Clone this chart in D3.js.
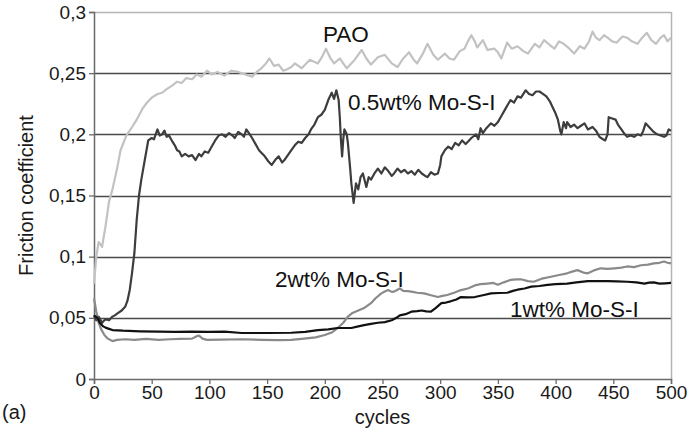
<!DOCTYPE html>
<html>
<head>
<meta charset="utf-8">
<script src="https://cdn.jsdelivr.net/npm/d3@7"></script>
<style>
  body { margin: 0; background: #fff; }
  svg { display: block; font-family: "Liberation Sans", Arial, sans-serif; }
</style>
</head>
<body>
<svg id="chart" width="694" height="433"></svg>
<script>
// friction coefficient vs cycles

var xTicks = [0, 50, 100, 150, 200, 250, 300, 350, 400, 450, 500];
var yTicks = [0, 0.05, 0.1, 0.15, 0.2, 0.25, 0.3];

var paoCycles = [0,2,4,7,10,13,16,20,23,28,33,37,42,46,50,55,59,63,68,72,76,80,85,89,93,98,102,107,113,119,125,131,137,141,145,149,152,156,160,164,167,171,174,180,187,194,198,201,205,208,213,219,226,232,236,240,246,252,258,263,268,273,277,280,285,289,294,298,304,308,312,317,321,324,327,330,332,337,341,347,350,353,358,362,367,372,376,382,386,390,395,399,403,407,412,416,421,425,429,432,435,438,442,445,449,453,458,462,466,471,475,479,483,487,491,494,497,500];
var paoValues = [0.078,0.100,0.112,0.108,0.125,0.145,0.155,0.172,0.187,0.199,0.206,0.212,0.221,0.226,0.230,0.233,0.234,0.237,0.240,0.243,0.242,0.246,0.245,0.249,0.247,0.252,0.249,0.251,0.248,0.252,0.251,0.249,0.247,0.251,0.254,0.258,0.262,0.256,0.257,0.252,0.253,0.255,0.258,0.254,0.261,0.258,0.264,0.270,0.262,0.258,0.262,0.254,0.261,0.269,0.262,0.257,0.263,0.265,0.258,0.255,0.262,0.267,0.261,0.258,0.266,0.274,0.265,0.261,0.266,0.262,0.261,0.268,0.270,0.276,0.281,0.276,0.271,0.277,0.269,0.270,0.267,0.262,0.275,0.270,0.272,0.268,0.266,0.274,0.271,0.277,0.273,0.270,0.276,0.274,0.270,0.266,0.272,0.270,0.276,0.284,0.279,0.277,0.281,0.279,0.276,0.275,0.280,0.279,0.276,0.274,0.279,0.283,0.277,0.274,0.279,0.281,0.276,0.279];

var halfCycles = [0,2,4,7,10,13,16,18,21,24,27,29,31,33,35,37,39,41,44,47,50,52,55,57,59,61,63,65,68,70,72,74,76,79,82,85,88,91,93,96,99,102,105,108,111,114,117,120,122,125,128,130,132,135,137,140,143,145,148,151,154,157,160,163,165,168,171,174,177,180,183,186,188,191,194,197,200,203,206,208,210,212,213,214,215,216,217,219,220,222,223,225,227,229,231,233,236,238,240,243,246,249,252,255,258,260,263,266,269,272,275,278,281,284,287,289,292,295,298,300,301,304,307,310,313,316,319,322,324,327,331,333,335,337,340,344,347,350,353,356,359,361,364,367,370,374,377,380,383,386,389,392,395,397,400,402,404,405,407,409,410,413,416,419,422,425,428,432,435,438,441,443,445,446,449,452,454,457,460,462,465,468,471,474,476,478,480,482,485,488,491,494,496,498,500];
var halfValues = [0.052,0.048,0.051,0.046,0.049,0.048,0.051,0.052,0.054,0.056,0.059,0.064,0.073,0.087,0.103,0.130,0.150,0.163,0.179,0.195,0.197,0.196,0.204,0.199,0.200,0.203,0.198,0.199,0.194,0.191,0.187,0.186,0.182,0.184,0.182,0.183,0.179,0.184,0.182,0.186,0.185,0.190,0.195,0.199,0.200,0.198,0.201,0.199,0.197,0.202,0.200,0.198,0.204,0.200,0.197,0.192,0.187,0.185,0.182,0.178,0.175,0.179,0.182,0.177,0.179,0.183,0.187,0.191,0.194,0.193,0.197,0.200,0.204,0.208,0.214,0.216,0.220,0.228,0.234,0.229,0.236,0.228,0.214,0.195,0.182,0.196,0.204,0.200,0.193,0.172,0.160,0.144,0.160,0.155,0.165,0.168,0.157,0.165,0.163,0.168,0.172,0.168,0.173,0.170,0.166,0.168,0.172,0.169,0.171,0.168,0.170,0.167,0.171,0.168,0.166,0.165,0.169,0.167,0.168,0.175,0.182,0.187,0.190,0.188,0.193,0.191,0.195,0.192,0.194,0.197,0.200,0.196,0.205,0.201,0.205,0.209,0.207,0.210,0.215,0.220,0.225,0.228,0.226,0.231,0.230,0.236,0.233,0.232,0.235,0.235,0.233,0.231,0.227,0.223,0.217,0.212,0.203,0.200,0.210,0.205,0.210,0.206,0.208,0.205,0.207,0.209,0.204,0.206,0.203,0.198,0.196,0.195,0.200,0.214,0.213,0.212,0.208,0.204,0.200,0.198,0.199,0.198,0.200,0.199,0.203,0.209,0.207,0.205,0.202,0.200,0.199,0.198,0.199,0.204,0.203];

var oneCycles = [0,3,5,8,10,13,16,25,40,56,70,85,100,113,128,150,171,183,194,203,211,223,229,234,240,246,252,258,262,265,270,275,280,284,288,292,296,301,305,309,314,318,324,330,338,344,351,358,363,367,373,379,386,393,400,410,418,428,436,445,453,462,470,477,481,485,490,495,500];
var oneValues = [0.052,0.050,0.046,0.043,0.042,0.041,0.040,0.0395,0.039,0.0387,0.0385,0.0388,0.0385,0.0387,0.0376,0.0376,0.0378,0.0385,0.040,0.0405,0.0417,0.0417,0.043,0.044,0.045,0.046,0.0465,0.048,0.050,0.052,0.053,0.055,0.0555,0.056,0.0553,0.055,0.058,0.062,0.0625,0.0635,0.065,0.067,0.0668,0.067,0.0687,0.070,0.0703,0.0705,0.072,0.073,0.074,0.0755,0.076,0.077,0.0775,0.078,0.079,0.080,0.080,0.080,0.0798,0.0795,0.079,0.078,0.0788,0.079,0.078,0.0782,0.0785];

var twoCycles = [0,2,4,6,9,12,16,20,27,35,45,56,66,75,85,89,91,94,98,110,128,145,160,171,182,192,200,206,211,216,220,224,229,234,240,244,249,252,255,258,260,263,265,268,272,275,280,286,292,298,302,306,312,318,324,330,335,341,346,350,355,361,366,370,376,381,388,396,403,410,415,419,424,428,434,439,445,451,457,462,468,474,480,485,490,494,497,500];
var twoValues = [0.066,0.055,0.046,0.041,0.036,0.033,0.031,0.032,0.0325,0.032,0.0328,0.032,0.0325,0.0328,0.033,0.035,0.0355,0.033,0.032,0.0322,0.0325,0.032,0.0318,0.032,0.033,0.034,0.036,0.038,0.0415,0.046,0.051,0.054,0.056,0.058,0.062,0.066,0.070,0.0715,0.0727,0.0712,0.0714,0.073,0.074,0.072,0.0718,0.0714,0.0705,0.070,0.0685,0.067,0.068,0.0687,0.0705,0.0727,0.074,0.0765,0.0775,0.078,0.0785,0.077,0.079,0.081,0.0815,0.0815,0.080,0.0795,0.082,0.0836,0.085,0.0864,0.088,0.089,0.087,0.0864,0.089,0.0905,0.090,0.0905,0.091,0.092,0.0915,0.093,0.0935,0.0945,0.095,0.096,0.095,0.0945];

var seriesNames = ["PAO", "0.5wt% Mo-S-I", "2wt% Mo-S-I", "1wt% Mo-S-I"];

function draw() {
    var svg = d3.select("#chart");

    var left = 94, right = 671, top = 12, bottom = 379;

    var x = d3.scaleLinear().domain([0, 500]).range([left, right]);
    var y = d3.scaleLinear().domain([0, 0.3]).range([bottom, top]);

    var locale = d3.formatLocale({ decimal: ",", thousands: ".", grouping: [3], currency: ["", ""] });
    var fmt = locale.format(".2~f");

    // horizontal grid lines
    svg.append("g")
        .selectAll("line")
        .data(yTicks.slice(1))
        .enter()
        .append("line")
        .attr("x1", left)
        .attr("x2", right)
        .attr("y1", function(d) { return Math.round(y(d)) + 0.5; })
        .attr("y2", function(d) { return Math.round(y(d)) + 0.5; })
        .attr("stroke", function(d) { return d === 0.3 ? "#b4b4b4" : "#4a4a4a"; })
        .attr("stroke-width", function(d) { return d === 0.3 ? 1.5 : 1.3; });

    // right border
    svg.append("line")
        .attr("x1", right + 0.5).attr("x2", right + 0.5)
        .attr("y1", top).attr("y2", bottom)
        .attr("stroke", "#b4b4b4").attr("stroke-width", 1.5);

    var yAxis = svg.append("g")
        .attr("transform", "translate(" + left + ",0)")
        .call(d3.axisLeft(y).tickValues(yTicks).tickFormat(fmt).tickSize(5).tickPadding(3));

    var xAxis = svg.append("g")
        .attr("transform", "translate(0," + bottom + ")")
        .call(d3.axisBottom(x).tickValues(xTicks).tickSize(5).tickPadding(2));

    [yAxis, xAxis].forEach(function(a) {
        a.select(".domain").attr("stroke", "#6a6a6a").attr("stroke-width", 1.5);
        a.selectAll(".tick line").attr("stroke", "#6a6a6a").attr("stroke-width", 1.3);
        a.selectAll(".tick text")
            .attr("fill", "#1a1a1a")
            .style("font-size", "19px")
            .style("font-family", "Liberation Sans, Arial, sans-serif");
    });

    var line = d3.line()
        .x(function(d) { return x(d[0]); })
        .y(function(d) { return y(d[1]); })
        .curve(d3.curveLinear);

    var series = [
        { cycles: paoCycles, values: paoValues, color: "#c2c2c2", width: 2.2 },
        { cycles: halfCycles, values: halfValues, color: "#3d3d3d", width: 2.2 },
        { cycles: twoCycles, values: twoValues, color: "#8a8a8a", width: 2.2 },
        { cycles: oneCycles, values: oneValues, color: "#111111", width: 2.2 }
    ];

    series.forEach(function(s) {
        var pts = s.cycles.map(function(c, i) { return [c, s.values[i]]; });
        svg.append("path")
            .datum(pts)
            .attr("d", line)
            .attr("fill", "none")
            .attr("stroke", s.color)
            .attr("stroke-width", s.width)
            .attr("stroke-linejoin", "round");
    });

    // series labels
    var labelPos = [[323, 42], [348, 110], [275, 287], [510, 317]];
    seriesNames.forEach(function(name, i) {
        svg.append("text")
            .attr("x", labelPos[i][0])
            .attr("y", labelPos[i][1])
            .attr("fill", "#111")
            .style("font-size", "22.5px")
            .text(name);
    });

    // axis titles
    svg.append("text")
        .attr("transform", "translate(33," + ((top + bottom) / 2) + ") rotate(-90)")
        .attr("text-anchor", "middle")
        .attr("fill", "#1a1a1a")
        .style("font-size", "20px")
        .text("Friction coefficient");

    svg.append("text")
        .attr("x", (left + right) / 2)
        .attr("y", 424)
        .attr("text-anchor", "middle")
        .attr("fill", "#1a1a1a")
        .style("font-size", "20px")
        .text("cycles");

    svg.append("text")
        .attr("x", 2)
        .attr("y", 419)
        .attr("fill", "#1a1a1a")
        .style("font-size", "20px")
        .text("(a)");
} //draw

draw();
</script>
</body>
</html>
